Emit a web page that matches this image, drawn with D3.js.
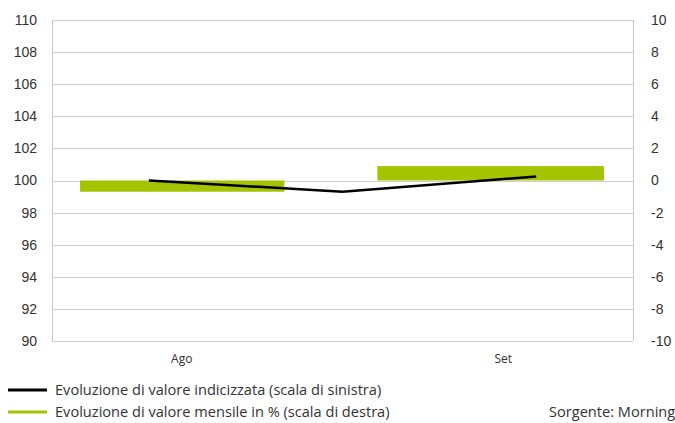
<!DOCTYPE html>
<html lang="it">
<head>
  <meta charset="UTF-8">
  <title>Evoluzione di valore</title>
  <script src="https://d3js.org/d3.v7.min.js"></script>
  <style>
    html, body { margin: 0; padding: 0; background: #fff; }
    svg { display: block; font-family: "Open Sans", "Noto Sans", sans-serif; }
  </style>
</head>
<body>
  <div id="chart"></div>
  <script>
    // Data
    var categories = ["Ago", "Set"];
    var categoryPos = [0.67, 2.33];            // label position, in month units
    var barStart = [0.145, 1.68];
    var barEnd = [1.2, 2.85];
    var monthlyPct = [-0.7, 0.9];              // right scale, %
    var linePos = [0.5, 1.5, 2.5];
    var indexValues = [100, 99.3, 100.25];     // left scale
    var leftTicks = [90, 92, 94, 96, 98, 100, 102, 104, 106, 108, 110];
    var rightTicks = [-10, -8, -6, -4, -2, 0, 2, 4, 6, 8, 10];
    var legendLabels = [
      "Evoluzione di valore indicizzata (scala di sinistra)",
      "Evoluzione di valore mensile in % (scala di destra)"
    ];
    var sourceText = "Sorgente: Morningstar";

    var width = 675, height = 423;
    var margin = {top: 20, right: 42, bottom: 82, left: 52};
    var green = "#a5c400";

    var svg = d3.select("#chart").append("svg")
      .attr("width", width)
      .attr("height", height);

    var x = d3.scaleLinear().domain([0, 3]).range([margin.left, width - margin.right]);
    var yL = d3.scaleLinear().domain([90, 110]).range([height - margin.bottom, margin.top]);
    var yR = d3.scaleLinear().domain([-10, 10]).range([height - margin.bottom, margin.top]);

    // gridlines
    svg.append("g")
      .selectAll("line")
      .data(leftTicks)
      .join("line")
      .attr("x1", margin.left)
      .attr("x2", width - margin.right)
      .attr("y1", d => Math.round(yL(d)) + 0.5)
      .attr("y2", d => Math.round(yL(d)) + 0.5)
      .attr("stroke", "#d0d0d0")
      .attr("stroke-width", 1);

    // side borders
    [margin.left, width - margin.right].forEach(function(px) {
      svg.append("line")
        .attr("x1", px + 0.5).attr("x2", px + 0.5)
        .attr("y1", margin.top).attr("y2", height - margin.bottom)
        .attr("stroke", "#c8c8c8");
    });

    // left axis
    var gl = svg.append("g")
      .attr("transform", `translate(${margin.left - 15},0)`)
      .call(d3.axisLeft(yL).tickValues(leftTicks).tickSize(0).tickPadding(0));
    gl.select(".domain").remove();
    gl.selectAll("text").attr("font-size", 14).attr("fill", "#333").attr("font-family", null);

    // right axis (plain hyphen for negatives, like the original)
    var gr = svg.append("g")
      .attr("transform", `translate(${width - margin.right + 18},0)`)
      .call(d3.axisRight(yR).tickValues(rightTicks).tickFormat(d => String(d)).tickSize(0).tickPadding(0));
    gr.select(".domain").remove();
    gr.selectAll("text").attr("font-size", 14).attr("fill", "#333").attr("font-family", null);

    // category labels
    svg.append("g")
      .selectAll("text")
      .data(categories)
      .join("text")
      .attr("x", (d, i) => x(categoryPos[i]))
      .attr("y", height - margin.bottom + 22)
      .attr("text-anchor", "middle")
      .attr("font-size", 12)
      .attr("fill", "#333")
      .text(d => d);

    // monthly bars
    svg.append("g")
      .selectAll("rect")
      .data(monthlyPct)
      .join("rect")
      .attr("x", (d, i) => x(barStart[i]))
      .attr("width", (d, i) => x(barEnd[i]) - x(barStart[i]))
      .attr("y", d => yR(Math.max(0, d)))
      .attr("height", d => Math.abs(yR(d) - yR(0)))
      .attr("fill", green);

    // indexed line
    var line = d3.line()
      .x((d, i) => x(linePos[i]))
      .y(d => yL(d));
    svg.append("path")
      .datum(indexValues)
      .attr("fill", "none")
      .attr("stroke", "#000")
      .attr("stroke-width", 2.5)
      .attr("d", line);

    // legend
    var legend = svg.append("g");
    var legendColors = ["#000", green];
    legendLabels.forEach(function(label, i) {
      var ly = 390 + i * 22;
      legend.append("line")
        .attr("x1", 8).attr("x2", 47)
        .attr("y1", ly).attr("y2", ly)
        .attr("stroke", legendColors[i])
        .attr("stroke-width", 3);
      legend.append("text")
        .attr("x", 55)
        .attr("y", ly + 5)
        .attr("font-size", 14.6)
        .attr("fill", "#333")
        .text(label);
    });

    svg.append("text")
      .attr("x", 549)
      .attr("y", 417)
      .attr("font-size", 14.6)
      .attr("fill", "#333")
      .text(sourceText);
  </script>
</body>
</html>
